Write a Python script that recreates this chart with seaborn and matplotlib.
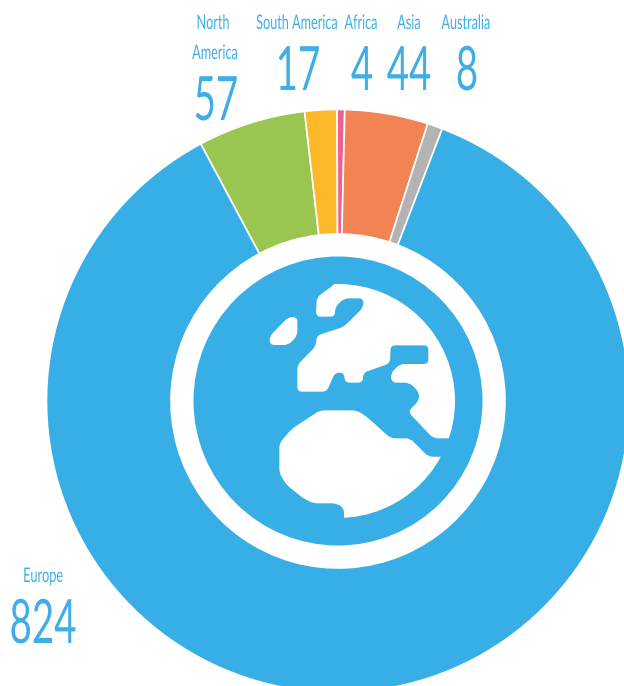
import matplotlib
matplotlib.use('Agg')
import matplotlib.pyplot as plt
from matplotlib.patches import Circle, PathPatch
from matplotlib.path import Path
from matplotlib.patheffects import AbstractPathEffect
from matplotlib.transforms import Affine2D
import seaborn as sns

regions = ['North America', 'South America', 'Africa', 'Asia', 'Australia', 'Europe']
counts = [57, 17, 4, 44, 8, 824]
colors = ['#9BC551', '#FDB92A', '#EE5F92', '#F28453', '#B3B3B3', '#38AEE6']

W, H = 624, 686
CX, CY = 338, 401
BLUE = '#38AEE6'
TEXT_BLUE = '#3FAEE6'

# globe land shapes, traced in (x, y) of the zoomed crop
europe_asia = [(465, 42), (410, 82), (408, 140), (465, 140), (465, 112), (492, 85), (550, 85),
               (550, 112), (492, 170), (410, 197), (408, 228), (352, 285), (352, 365), (440, 365),
               (465, 308), (492, 308), (495, 338), (548, 338), (550, 308), (630, 280), (632, 226),
               (745, 226), (745, 282), (660, 282), (632, 310), (635, 338), (688, 338), (717, 366),
               (717, 392), (688, 420), (690, 432), (760, 505), (900, 505), (900, 0), (465, 0)]
island = [(325, 141), (352, 141), (352, 197), (325, 225), (270, 225), (268, 200)]
africa = [(420, 421), (530, 421), (560, 440), (632, 505), (690, 505), (745, 560), (900, 562),
          (900, 800), (492, 800), (492, 715), (470, 700), (400, 700), (370, 685), (320, 645),
          (298, 610), (298, 520), (335, 477)]


class Tall(AbstractPathEffect):
    # the reference type is very condensed: stretch glyphs up from their baseline
    def __init__(self, sy, y0):
        super().__init__()
        self.sy = sy
        self.y0 = y0

    def draw_path(self, renderer, gc, tpath, affine, rgbFace=None):
        stretch = Affine2D().translate(0, -self.y0).scale(1, self.sy).translate(0, self.y0)
        renderer.draw_path(gc, tpath, affine + stretch, rgbFace)


def rounded_path(points, r=14):
    # closed path through crop points, corners rounded with quadratic curves
    verts, codes = [], []
    n = len(points)
    for i, p in enumerate(points):
        prev, nxt = points[i - 1], points[(i + 1) % n]
        for q, code in ((prev, Path.MOVETO if i == 0 else Path.LINETO), (None, Path.CURVE3), (nxt, Path.CURVE3)):
            if q is None:
                verts.append(p)
            else:
                d = max(((q[0] - p[0]) ** 2 + (q[1] - p[1]) ** 2) ** 0.5, 1)
                t = min(r / d, 0.5)
                verts.append((p[0] + (q[0] - p[0]) * t, p[1] + (q[1] - p[1]) * t))
            codes.append(code)
    verts.append(verts[0])
    codes.append(Path.CLOSEPOLY)
    # crop zoom was 3x from (180, 270)
    verts = [(180 + x / 3, H - (270 + y / 3)) for x, y in verts]
    return Path(verts, codes)


def label(ax, x, y, s, size):
    t = ax.text(x, H - y, s, ha='center', va='baseline', fontsize=size, color=TEXT_BLUE, family='Lato')
    t.set_path_effects([Tall(1.59, H - y)])


sns.set_theme(style='white')
fig = plt.figure(figsize=(W / 100, H / 100), dpi=100)
ax = fig.add_axes([0, 0, 1, 1])

ax.pie(counts, colors=colors, startangle=118.1, counterclock=False, radius=291.5,
       center=(CX, H - CY), frame=False,
       wedgeprops=dict(width=124.5, edgecolor='white', linewidth=1.2))
ax.set_xlim(0, W)
ax.set_ylim(0, H)
ax.set_aspect('equal')
ax.axis('off')

# globe icon in the hole
ax.add_patch(Circle((CX, H - CY), 144.5, color=BLUE, lw=0))
land_clip = Circle((CX, H - CY), 117, transform=ax.transData)
for shape in (europe_asia, island, africa):
    land = PathPatch(rounded_path(shape), facecolor='white', edgecolor='none')
    ax.add_patch(land)
    land.set_clip_path(land_clip)

# region names and counts
big, small = 27.7, 9.1
label(ax, 213, 29, 'North', small)
label(ax, 215, 59, 'America', small)
label(ax, 216, 120, str(counts[0]), big)
label(ax, 297, 29, regions[1], small)
label(ax, 298, 90, str(counts[1]), big)
label(ax, 361, 29, regions[2], small)
label(ax, 362, 90, str(counts[2]), big)
label(ax, 409, 29, regions[3], small)
label(ax, 409, 90, str(counts[3]), big)
label(ax, 466, 29, regions[4], small)
label(ax, 467, 90, str(counts[4]), big)
label(ax, 43, 582, regions[5], small)
label(ax, 43, 643, str(counts[5]), big)

fig.savefig('out.png', dpi=100)
